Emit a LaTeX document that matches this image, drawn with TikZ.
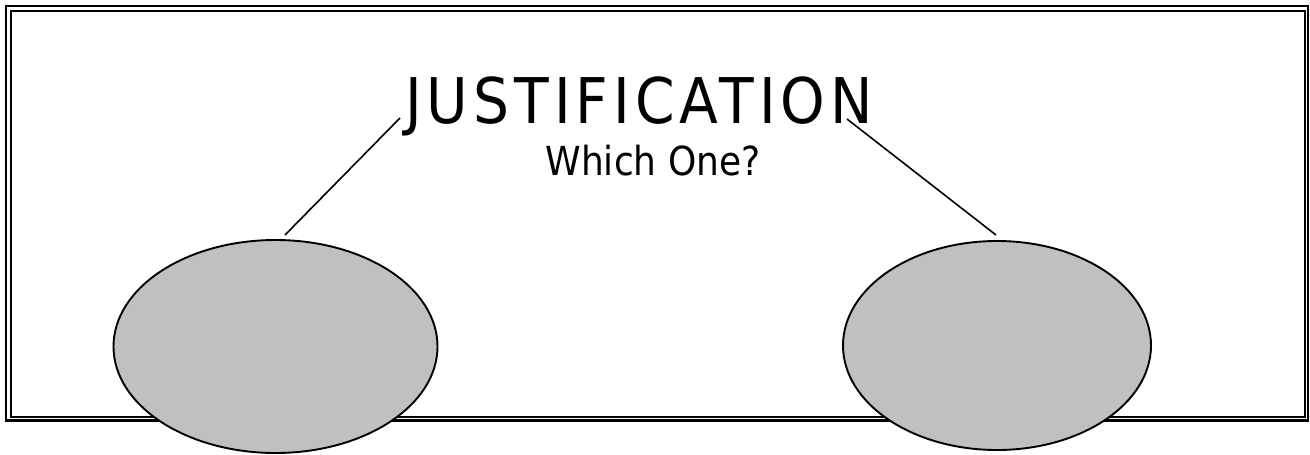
\documentclass[tikz,border=0pt]{standalone}
\usepackage{fontspec}
\setmainfont{DejaVu Sans}
\newfontfamily\titlefont[FakeStretch=0.9,LetterSpace=8]{DejaVu Sans}
\newfontfamily\subfont[FakeStretch=0.9]{DejaVu Sans}
\usetikzlibrary{shapes.geometric}
\definecolor{ovalgray}{HTML}{C0C0C0}
\tikzset{
  frameline/.style={black, line width=2.6pt},
  frameinner/.style={black, line width=2pt},
  oval/.style={ellipse, draw=black, fill=ovalgray, line width=1.9pt, inner sep=0pt},
  link/.style={black, line width=1.6pt},
  titlenode/.style={anchor=base, inner sep=0pt, font=\titlefont\fontsize{63}{63}\selectfont},
  subnode/.style={anchor=base, inner sep=0pt, font=\subfont\fontsize{40}{40}\selectfont}
}
\begin{document}
\begin{tikzpicture}[x=1pt, y=-1pt]
  \useasboundingbox (0,0) rectangle (1310,455);
  % double frame
  \draw[frameline] (6,6) rectangle (1308,420.5);
  \draw[frameinner] (10.5,10.5) rectangle (1304.5,417);
  % ovals
  \node[oval, minimum width=324pt, minimum height=213pt] (leftoval) at (275.5,346.5) {};
  \node[oval, minimum width=308pt, minimum height=209pt] (rightoval) at (997,345.5) {};
  % texts
  \node[titlenode] (title) at (639,123) {JUSTIFICATION};
  \node[subnode] (question) at (653,175) {Which One?};
  % connectors
  \coordinate (lefttop) at (400,118);
  \coordinate (leftend) at (285,235);
  \coordinate (righttop) at (847,119);
  \coordinate (rightend) at (996,235);
  \draw[link] (lefttop) -- (leftend);
  \draw[link] (righttop) -- (rightend);
\end{tikzpicture}
\end{document}
